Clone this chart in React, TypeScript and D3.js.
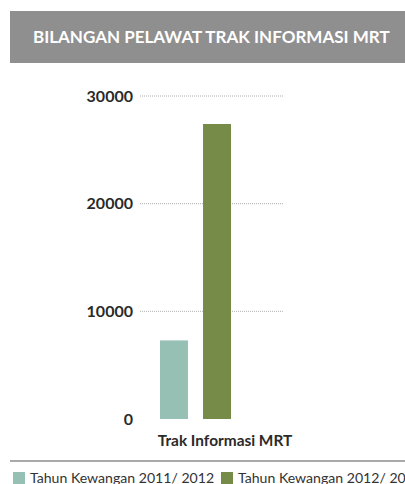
import * as d3 from "d3";

const W = 405;
const H = 484;

// data
const categories = ["Trak Informasi MRT"];
const seriesNames = ["Tahun Kewangan 2011/ 2012", "Tahun Kewangan 2012/ 2013"];
const seriesValues = [7300, 27400];
const seriesColors = ["#96c0b4", "#758b47"];
const yTicks = [0, 10000, 20000, 30000];

const title = "BILANGAN PELAWAT TRAK INFORMASI MRT";
const font = "Lato, 'Open Sans', sans-serif";

const plot = { left: 140, right: 284, top: 96, bottom: 419 };

export default function App() {
  const y = d3.scaleLinear().domain([0, 30000]).range([plot.bottom, plot.top]);
  const x0 = d3.scaleBand().domain(categories).range([160, 231]).padding(0);
  const x1 = d3
    .scaleBand()
    .domain(seriesNames)
    .range([0, x0.bandwidth()])
    .paddingInner(0.35)
    .paddingOuter(0);

  return (
    <svg
      width={W}
      height={H}
      style={{ position: "absolute", left: 0, top: 0, fontFamily: font }}
    >
      <rect x={0} y={0} width={W} height={H} fill="#fff" />
      {/* header band */}
      <rect x={10} y={11} width={W - 10} height={52} fill="#8f8f8f" />
      <text x={33} y={43} fill="#fff" fontSize={17} fontWeight={700}>
        {title}
      </text>

      {/* grid + y labels */}
      {yTicks.map((t) => (
        <g key={t}>
          {t > 0 && (
            <line
              x1={plot.left}
              x2={plot.right}
              y1={y(t)}
              y2={y(t)}
              stroke="#9a9a9a"
              strokeWidth={0.8}
              strokeDasharray="1 1"
            />
          )}
          <text
            x={133}
            y={y(t) + 5.5}
            textAnchor="end"
            fontSize={16}
            fontWeight={700}
            fill="#2a2a2a"
          >
            {t}
          </text>
        </g>
      ))}

      {/* bars */}
      {categories.map((c) => (
        <g key={c} transform={`translate(${x0(c)},0)`}>
          {seriesNames.map((s, i) => (
            <rect
              key={s}
              x={x1(s)}
              y={y(seriesValues[i])}
              width={x1.bandwidth()}
              height={y(0) - y(seriesValues[i])}
              fill={seriesColors[i]}
            />
          ))}
          <text
            x={65}
            y={446}
            textAnchor="middle"
            fontSize={15.4}
            fontWeight={700}
            fill="#2a2a2a"
          >
            {c}
          </text>
        </g>
      ))}

      {/* separator */}
      <line x1={10} x2={W} y1={461} y2={461} stroke="#555" strokeWidth={1} />

      {/* legend */}
      {seriesNames.map((s, i) => {
        const lx = i === 0 ? 13 : 221;
        return (
          <g key={s}>
            <rect x={lx} y={472} width={12} height={12} fill={seriesColors[i]} />
            <text x={lx + 17} y={483} fontSize={14.1} fill="#333">
              {s}
            </text>
          </g>
        );
      })}
    </svg>
  );
}
